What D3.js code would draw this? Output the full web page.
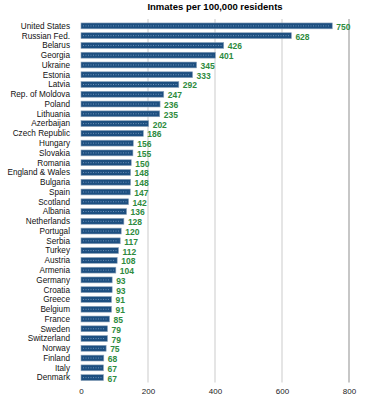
<!DOCTYPE html>
<html>
<head>
<meta charset="utf-8">
<script src="https://cdn.jsdelivr.net/npm/d3@7"></script>
<style>
  body { margin: 0; background: #fff; }
  text { font-family: "Liberation Sans", Arial, sans-serif; }
</style>
</head>
<body>
<div class="chart"></div>
<script>
// data
const countries = ["United States", "Russian Fed.", "Belarus", "Georgia", "Ukraine", "Estonia",
  "Latvia", "Rep. of Moldova", "Poland", "Lithuania", "Azerbaijan", "Czech Republic",
  "Hungary", "Slovakia", "Romania", "England & Wales", "Bulgaria", "Spain", "Scotland",
  "Albania", "Netherlands", "Portugal", "Serbia", "Turkey", "Austria", "Armenia",
  "Germany", "Croatia", "Greece", "Belgium", "France", "Sweden", "Switzerland",
  "Norway", "Finland", "Italy", "Denmark"];
const inmates = [750, 628, 426, 401, 345, 333, 292, 247, 236, 235, 202, 186, 156, 155, 150,
  148, 148, 147, 142, 136, 128, 120, 117, 112, 108, 104, 93, 93, 91, 91, 85, 79, 79, 75,
  68, 67, 67];
const ticks = [0, 200, 400, 600, 800];
const title = "Inmates per 100,000 residents";

const width = 370, height = 400;
const margin = {top: 21, right: 21, bottom: 17.5, left: 81};

const svg = d3.select(".chart").append("svg")
  .attr("width", width)
  .attr("height", height);

const x = d3.scaleLinear().domain([0, 800]).range([margin.left, width - margin.right]);
const y = d3.scaleBand().domain(countries)
  .range([margin.top, height - margin.bottom])
  .paddingInner(0.4).paddingOuter(0.2);

// title
svg.append("text")
  .attr("x", (x(0) + x(800)) / 2)
  .attr("y", 10)
  .attr("text-anchor", "middle")
  .attr("font-size", 9.5)
  .attr("font-weight", "bold")
  .text(title);

// gridlines
svg.append("g").selectAll("line")
  .data(ticks.slice(1))
  .join("line")
  .attr("x1", d => x(d)).attr("x2", d => x(d))
  .attr("y1", margin.top - 2).attr("y2", height - margin.bottom)
  .attr("stroke", d => d === 800 ? "#b4b4b4" : "#dcdcdc")
  .attr("stroke-width", 1.5);

// axis
const axis = svg.append("g")
  .attr("transform", `translate(0,${height - 18})`)
  .call(d3.axisBottom(x).tickValues(ticks).tickSize(0).tickPadding(6));
axis.select(".domain").remove();
axis.selectAll("text").attr("font-size", 8).attr("fill", "#222")
  .style("font-family", "'Liberation Sans', Arial, sans-serif");

// bars
const rows = svg.append("g").selectAll("g")
  .data(countries)
  .join("g")
  .attr("transform", d => `translate(0,${y(d)})`);

rows.append("rect")
  .attr("x", x(0))
  .attr("y", 0)
  .attr("width", (d, i) => x(inmates[i]) - x(0))
  .attr("height", y.bandwidth())
  .attr("fill", "#1d4f80")
  .attr("stroke", "#8ca2ba")
  .attr("stroke-width", 0.6);

rows.append("line")
  .attr("x1", x(0) + 2)
  .attr("x2", (d, i) => x(inmates[i]) - 2)
  .attr("y1", y.bandwidth() / 2).attr("y2", y.bandwidth() / 2)
  .attr("stroke", "#7fa0c4")
  .attr("stroke-width", 0.8)
  .attr("stroke-dasharray", "1,1.5");

rows.append("text")
  .attr("x", x(0) - 11)
  .attr("y", y.bandwidth() / 2)
  .attr("dy", "0.35em")
  .attr("text-anchor", "end")
  .attr("font-size", 8.2)
  .attr("fill", "#111")
  .text(d => d);

rows.append("text")
  .attr("x", (d, i) => x(inmates[i]) + 4)
  .attr("y", y.bandwidth() / 2 + 1)
  .attr("dy", "0.35em")
  .attr("font-size", 8.5)
  .attr("font-weight", "bold")
  .attr("fill", "#2e8b3e")
  .text((d, i) => inmates[i]);
</script>
</body>
</html>
